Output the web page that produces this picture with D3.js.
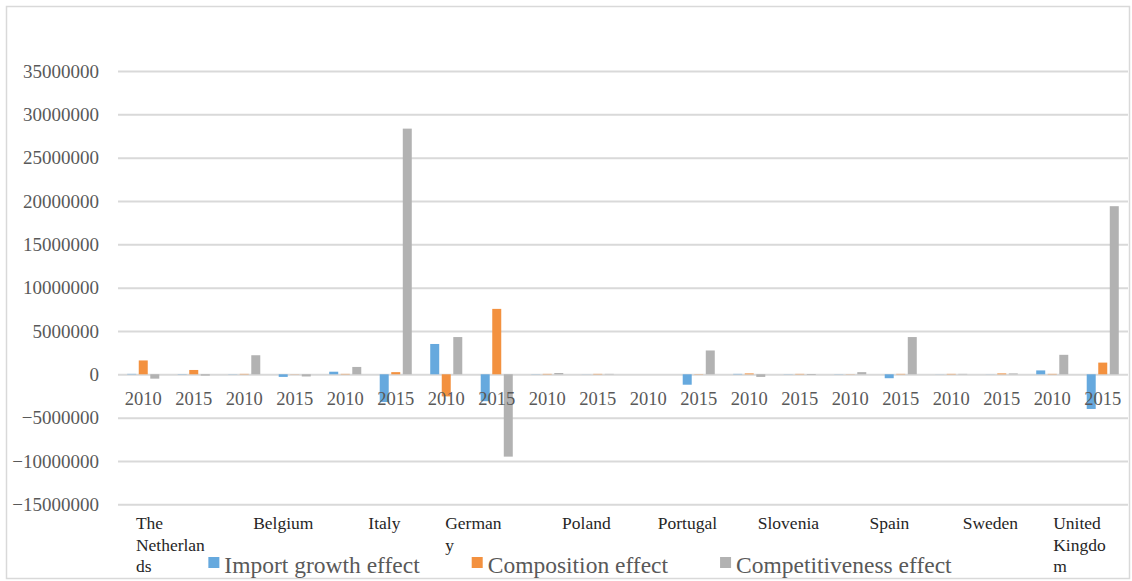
<!DOCTYPE html>
<html>
<head>
<meta charset="utf-8">
<script src="https://cdn.jsdelivr.net/npm/d3@7"></script>
<style>
  html, body { margin: 0; padding: 0; background: #fff; }
  svg { display: block; }
  text { font-family: "Liberation Serif", "DejaVu Serif", serif; }
</style>
</head>
<body>
<svg id="chart" width="1132" height="581"></svg>
<script>
// Countries (line breaks as wrapped on the category axis) and years per country
const countries = ["The\nNetherlan\nds", "Belgium", "Italy", "German\ny", "Poland",
                   "Portugal", "Slovenia", "Spain", "Sweden", "United\nKingdo\nm"];
const years = ["2010", "2015"];

const seriesNames = ["Import growth effect", "Composition effect", "Competitiveness effect"];

// One value per country-year, in country order (2010, 2015, 2010, 2015, ...)
const importGrowth = [
  50000, 30000, 20000, -300000, 300000, -3200000, 3500000, -3100000, 20000, 10000,
  0, -1200000, 50000, 20000, 20000, -450000, 10000, 10000, 450000, -4000000
];
const composition = [
  1600000, 500000, 50000, 20000, 50000, 250000, -2550000, 7550000, 50000, 50000,
  0, 30000, 100000, 50000, 20000, 50000, 50000, 100000, 50000, 1350000
];
const competitiveness = [
  -500000, -150000, 2200000, -250000, 850000, 28350000, 4300000, -9500000, 150000, 50000,
  0, 2750000, -300000, -80000, 250000, 4300000, 50000, 100000, 2250000, 19400000
];

const yTicks = [-15000000, -10000000, -5000000, 0, 5000000, 10000000, 15000000,
                20000000, 25000000, 30000000, 35000000];

const colors = ["#66A9DE", "#F3913F", "#B2B2B2"];

// Layout
const W = 1132, H = 581;
const plot = { left: 118, right: 1128, top: 71, bottom: 504.3 };

const svg = d3.select("#chart");

// Outer chart frame
svg.append("rect")
  .attr("x", 6.5).attr("y", 6.5)
  .attr("width", W - 9).attr("height", H - 9)
  .attr("fill", "#fff").attr("stroke", "#D9D9D9").attr("stroke-width", 1.5);

// Category keys for the 20 country-year groups
const groups = [];
countries.forEach((c, ci) => years.forEach((yr, yi) => groups.push({ ci, yr, key: ci + "-" + yr })));

const x0 = d3.scaleBand()
  .domain(groups.map(g => g.key))
  .range([plot.left, plot.right])
  .padding(0);

const x1 = d3.scaleBand()
  .domain(d3.range(seriesNames.length))
  .range([0, x0.bandwidth()])
  .paddingInner(0.22)
  .paddingOuter(0.8);

const xCountry = d3.scaleBand()
  .domain(d3.range(countries.length))
  .range([plot.left, plot.right])
  .padding(0);

const y = d3.scaleLinear()
  .domain([-15000000, 35000000])
  .range([plot.bottom, plot.top]);

// Horizontal gridlines
const yAxis = d3.axisLeft(y)
  .tickValues(yTicks)
  .tickSize(-(plot.right - plot.left))
  .tickPadding(19)
  .tickFormat(d3.format("d"));

const gy = svg.append("g")
  .attr("transform", `translate(${plot.left},0)`)
  .call(yAxis);
gy.select(".domain").remove();
gy.selectAll(".tick line")
  .attr("stroke", "#D9D9D9")
  .attr("stroke-width", 2);
gy.selectAll(".tick text")
  .attr("fill", "#595959")
  .style("font-size", "19px")
  .attr("dy", "0.33em");

// Bars
const seriesData = [importGrowth, composition, competitiveness];
seriesData.forEach((vals, si) => {
  svg.append("g")
    .selectAll("rect")
    .data(groups.map((g, i) => ({ key: g.key, v: vals[i] })))
    .join("rect")
    .attr("x", d => x0(d.key) + x1(si))
    .attr("width", x1.bandwidth())
    .attr("y", d => y(Math.max(0, d.v)))
    .attr("height", d => Math.abs(y(d.v) - y(0)))
    .attr("fill", colors[si]);
});

// Year labels just below the zero line
svg.append("g")
  .selectAll("text")
  .data(groups)
  .join("text")
  .attr("x", d => x0(d.key) + x0.bandwidth() / 2)
  .attr("y", 405)
  .attr("text-anchor", "middle")
  .attr("fill", "#595959")
  .style("font-size", "18.5px")
  .text(d => d.yr);

// Country labels (second level of the category axis)
const cg = svg.append("g");
countries.forEach((name, ci) => {
  const lines = name.split("\n");
  const t = cg.append("text")
    .attr("fill", "#262626")
    .style("font-size", "17.5px");
  lines.forEach((ln, li) => {
    t.append("tspan")
      .attr("x", 0)
      .attr("y", 529 + li * 21.5)
      .text(ln);
  });
  const w = t.node().getBBox().width;
  const cx = xCountry(ci) + xCountry.bandwidth() / 2 + (lines.length > 1 ? 2 : 14);
  t.attr("transform", `translate(${cx - w / 2},0)`);
});

// Legend
const legend = svg.append("g");
const legendGap = 52;
let lx = 0;
seriesNames.forEach((name, si) => {
  const item = legend.append("g").attr("transform", `translate(${lx},0)`);
  item.append("rect")
    .attr("x", 0).attr("y", 557)
    .attr("width", 11).attr("height", 11)
    .attr("fill", colors[si]);
  const txt = item.append("text")
    .attr("x", 16).attr("y", 573)
    .attr("fill", "#595959")
    .style("font-size", "23.5px")
    .text(name);
  lx += 16 + txt.node().getComputedTextLength() + legendGap;
});
const legendWidth = lx - legendGap;
legend.attr("transform", `translate(${580 - legendWidth / 2},0)`);
</script>
</body>
</html>
